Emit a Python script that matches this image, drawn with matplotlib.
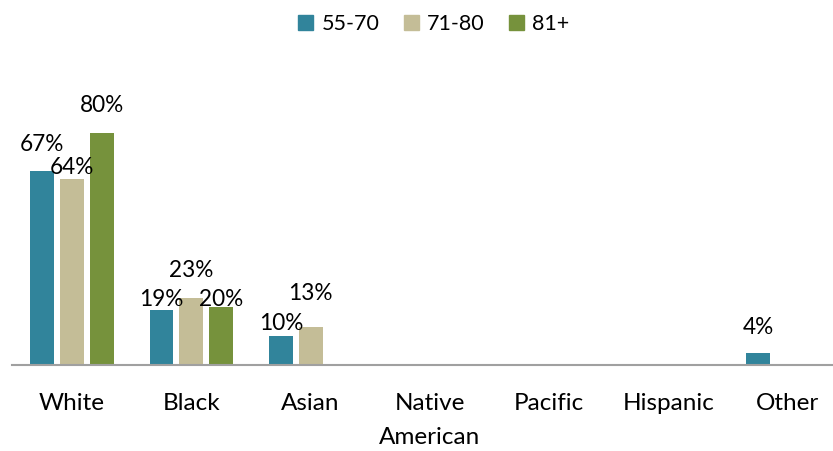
import numpy as np
import matplotlib
matplotlib.use("Agg")
import matplotlib.pyplot as plt
from matplotlib.patches import Rectangle

plt.rcParams["font.family"] = ["Lato", "DejaVu Sans"]

categories = ["White", "Black", "Asian", "Native\nAmerican", "Pacific", "Hispanic", "Other"]
series = ["55-70", "71-80", "81+"]
age_55_70 = [67, 19, 10, np.nan, np.nan, np.nan, 4]
age_71_80 = [64, 23, 13, np.nan, np.nan, np.nan, np.nan]
age_81 = [80, 20, np.nan, np.nan, np.nan, np.nan, np.nan]

colors = ["#31849B", "#C4BD97", "#76923C"]
# hand-placed label lift above the bar top (pixels), as in the original
label_lift = [[26, 10, 12, 0, 0, 0, 26],
              [12, 28, 34, 0, 0, 0, 0],
              [28, 8, 0, 0, 0, 0, 0]]

W, H = 833, 451
fig = plt.figure(figsize=(W / 100, H / 100), dpi=100)
ax = fig.add_axes([12.4 / W, 86 / H, 7 * 119.3 / W, 290 / H])

x = np.arange(len(categories))
width = 0.2
for i, (vals, c) in enumerate(zip([age_55_70, age_71_80, age_81], colors)):
    xs = x + (i - 1) * 0.25
    ax.bar(xs, vals, width, color=c, label=series[i])
    for xi, v, dy in zip(xs, vals, label_lift[i]):
        if np.isnan(v):
            continue
        ax.annotate("%d%%" % v, (xi, v), xytext=(0, dy), textcoords="offset pixels",
                    ha="center", va="center", fontsize=16.3, color="#000000")

ax.set_xlim(-0.5, 6.5)
ax.set_ylim(0, 100)
ax.set_xticks(x)
ax.set_xticklabels(categories, fontsize=17.5, linespacing=1.75)
ax.tick_params(axis="x", length=0, pad=20)
ax.set_yticks([])
for s in ["top", "right", "left"]:
    ax.spines[s].set_visible(False)
ax.spines["bottom"].set_color("#A0A0A0")
ax.spines["bottom"].set_linewidth(1.5)

handles = [Rectangle((0, 0), 1, 1, color=c) for c in colors]
fig.legend(handles, series, loc="upper center", bbox_to_anchor=(0.521, 1.012),
           ncol=3, frameon=False, fontsize=15.5, handlelength=0.7, handleheight=0.7,
           handletextpad=0.4, columnspacing=1.1)

fig.savefig("out.png", dpi=100)
